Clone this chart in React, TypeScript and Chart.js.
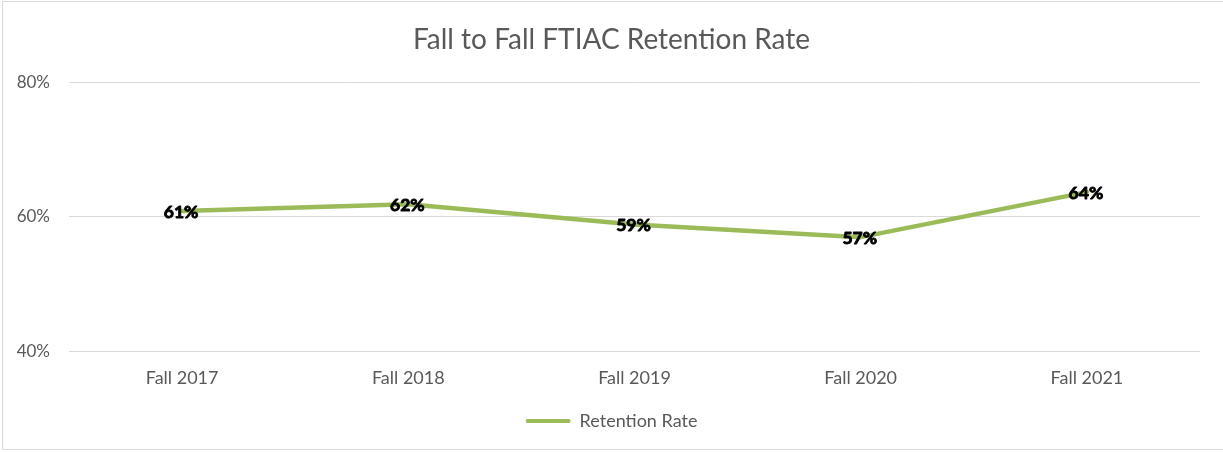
import React, { useEffect, useRef } from "react";
import { Chart, registerables } from "chart.js";

Chart.register(...registerables);

const categories = ["Fall 2017", "Fall 2018", "Fall 2019", "Fall 2020", "Fall 2021"];
const retentionRate = [60.9, 61.9, 58.9, 57.0, 63.7];
const labelValues = ["61%", "62%", "59%", "57%", "64%"];
const seriesName = "Retention Rate";
const chartTitle = "Fall to Fall FTIAC Retention Rate";

const GREEN = "#9BBB59";
const GREY_TEXT = "#595959";
const GRID = "#d9d9d9";
const FONT = "Lato";

const dataLabelPlugin = {
  id: "dataLabels",
  afterDatasetsDraw(chart: any) {
    const ctx = chart.ctx;
    const meta = chart.getDatasetMeta(0);
    ctx.save();
    ctx.font = `bold 17.5px ${FONT}`;
    ctx.fillStyle = "#000000";
    ctx.strokeStyle = "#000000";
    ctx.lineWidth = 0.9;
    ctx.lineJoin = "round";
    ctx.textAlign = "center";
    ctx.textBaseline = "middle";
    meta.data.forEach((pt: any, i: number) => {
      ctx.fillText(labelValues[i], pt.x - 1, pt.y + 1);
      ctx.strokeText(labelValues[i], pt.x - 1, pt.y + 1);
    });
    ctx.restore();
  },
};

export default function App() {
  const canvasRef = useRef<HTMLCanvasElement | null>(null);

  useEffect(() => {
    document.body.style.margin = "0";
    document.body.style.overflow = "hidden";
    const chart = new Chart(canvasRef.current as HTMLCanvasElement, {
      type: "line",
      data: {
        labels: categories,
        datasets: [
          {
            label: seriesName,
            data: retentionRate,
            borderColor: GREEN,
            backgroundColor: GREEN,
            borderWidth: 4.5,
            pointRadius: 0,
            tension: 0,
            borderJoinStyle: "round",
            borderCapStyle: "round",
          },
        ],
      },
      options: {
        animation: false,
        responsive: false,
        maintainAspectRatio: false,
        layout: { padding: { top: 2, right: 0, bottom: 12, left: 0 } },
        plugins: {
          title: {
            display: true,
            text: chartTitle,
            color: GREY_TEXT,
            font: { family: FONT, size: 28, weight: "normal" },
            padding: { top: 21, bottom: 26 },
          },
          legend: {
            display: true,
            position: "bottom",
            labels: {
              color: GREY_TEXT,
              font: { family: FONT, size: 18 },
              boxWidth: 45,
              boxHeight: 4,
              padding: 7,
              generateLabels: () => [
                {
                  text: seriesName,
                  fillStyle: GREEN,
                  strokeStyle: GREEN,
                  lineWidth: 0,
                  fontColor: GREY_TEXT,
                  hidden: false,
                  datasetIndex: 0,
                  borderRadius: 2,
                },
              ],
            },
          },
          tooltip: { enabled: false },
        },
        scales: {
          x: {
            offset: true,
            grid: { display: false, drawTicks: false },
            border: { display: false },
            ticks: {
              color: GREY_TEXT,
              font: { family: FONT, size: 18 },
              padding: 16,
              maxRotation: 0,
            },
          },
          y: {
            min: 40,
            max: 80,
            grid: { color: GRID, lineWidth: 1, drawTicks: false },
            border: { display: false },
            ticks: {
              stepSize: 20,
              color: GREY_TEXT,
              font: { family: FONT, size: 17 },
              padding: 19,
              callback: (v: any) => `${v}%`,
            },
            afterFit: (scale: any) => {
              scale.width = 69;
            },
          },
          yRightSpacer: {
            position: "right",
            display: true,
            min: 40,
            max: 80,
            grid: { display: false, drawTicks: false },
            border: { display: false },
            ticks: { display: false },
            afterFit: (scale: any) => {
              scale.width = 23;
            },
          },
        },
      },
      plugins: [dataLabelPlugin],
    });
    return () => chart.destroy();
  }, []);

  return (
    <div style={{ position: "relative", width: 1223, height: 452, overflow: "hidden" }}>
      <div
        style={{
          position: "absolute",
          left: 2,
          top: 1,
          width: 1240,
          height: 449,
          border: "1px solid #d9d9d9",
          boxSizing: "border-box",
        }}
      />
      <canvas ref={canvasRef} width={1223} height={452} style={{ position: "absolute", left: 0, top: 0 }} />
    </div>
  );
}
